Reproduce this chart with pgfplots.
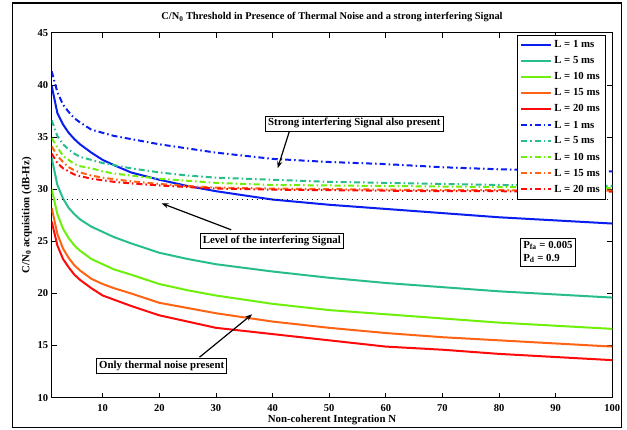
\documentclass[border=0pt]{standalone}
\usepackage{fontspec}
\setmainfont{Liberation Serif}
\usepackage{amsmath}
\usepackage{pgfplots}
\pgfplotsset{compat=1.18}
\usepackage{pgfplotstable}
\usetikzlibrary{arrows.meta}

\definecolor{cblue}{RGB}{10,30,240}
\definecolor{cteal}{RGB}{40,190,140}
\definecolor{cgreen}{RGB}{110,240,10}
\definecolor{corange}{RGB}{255,100,20}
\definecolor{cred}{RGB}{255,10,10}

\newcommand\fa{\fontsize{10.8}{13}\selectfont\bfseries}
\newcommand\ft{\fontsize{10.4}{12.5}\selectfont\bfseries}
\newcommand\fk{\fontsize{10.5}{12.5}\selectfont\bfseries}

\pgfplotstableread{
N   s1   s5   s10  s15  s20  d1   d5    d10   d15   d20
1   39.9 33.0 30.0 28.2 26.9 41.3 36.6  34.9  34.1  33.4
2   37.3 30.4 27.6 25.7 24.6 39.3 35.1  34.0  33.2  32.5
3   36.2 29.1 26.2 24.3 23.3 38.1 34.3  33.2  32.6  32.0
4   35.4 28.2 25.3 23.4 22.5 37.4 33.8  32.8  32.1  31.7
5   34.8 27.6 24.6 22.7 21.8 36.8 33.4  32.4  31.8  31.4
6   34.3 27.1 24.1 22.2 21.3 36.4 33.1  32.2  31.6  31.25
8   33.5 26.4 23.3 21.4 20.5 35.7 32.8  32.0  31.3  31.0
10  32.8 25.9 22.8 20.9 19.8 35.4 32.5  31.7  31.1  30.85
12  32.3 25.4 22.3 20.5 19.4 35.1 32.3  31.5  30.95 30.7
15  31.6 24.8 21.8 20.0 18.8 34.8 32.0  31.3  30.75 30.55
20  30.9 23.9 20.9 19.1 17.9 34.3 31.6  31.0  30.5  30.35
25  30.3 23.3 20.3 18.6 17.3 33.9 31.3  30.8  30.3  30.2
30  29.8 22.8 19.8 18.1 16.7 33.5 31.1  30.6  30.15 30.05
40  29.0 22.1 19.0 17.3 16.1 32.9 30.9  30.4  30.05 29.95
50  28.5 21.5 18.4 16.7 15.5 32.6 30.7  30.35 30.0  29.9
60  28.1 21.0 18.0 16.2 14.9 32.4 30.6  30.3  29.95 29.85
70  27.7 20.6 17.6 15.8 14.6 32.1 30.5  30.25 29.9  29.8
80  27.3 20.2 17.2 15.5 14.2 31.9 30.4  30.2  29.9  29.8
90  27.0 19.9 16.9 15.2 13.9 31.8 30.35 30.15 29.85 29.75
100 26.7 19.6 16.6 14.9 13.6 31.7 30.3  30.1  29.85 29.75
}\data

\begin{document}
\begin{tikzpicture}[x=1pt,y=1pt]
\fill[white] (0,0) rectangle (627,430);
\draw[line width=1.6pt] (12.5,2.5) rectangle (621.5,427);
\begin{axis}[
  at={(51.7pt,32.3pt)}, anchor=south west,
  scale only axis, width=560.6pt, height=365pt,
  xmin=1, xmax=100, ymin=10, ymax=45,
  xtick={10,20,...,100}, ytick={10,15,...,45},
  tick align=inside, major tick length=5pt,
  axis line style={line width=0.8pt},
  every tick/.style={black, line width=0.6pt},
  /pgf/number format/assume math mode=true,
  tick label style={font=\fk},
  xticklabel style={yshift=-3pt},
  every axis title shift=0pt,
  title={C/N$_{\text{0}}$ Threshold in Presence of Thermal Noise and a strong interfering Signal},
  title style={font=\ft, at={(axis description cs:0.5,1)}, anchor=base, yshift=12.7pt},
  xlabel={Non-coherent Integration N},
  xlabel style={font=\fa, at={(axis description cs:0.5,0)}, anchor=base, yshift=-24.5pt},
  ylabel={C/N$_{\text{0}}$ acquisition (dB-Hz)},
  ylabel style={font=\fa, at={(axis description cs:-0.0446,0.5)}, anchor=center},
  legend style={at={(axis description cs:0.988,0.994)}, anchor=north east,
    font=\fa, draw=black, line width=0.6pt, row sep=3.4pt, inner sep=3.5pt},
  legend cell align=left,
  legend image code/.code={\draw[#1] (0pt,0pt) -- (30pt,0pt);},
]
\addplot[cblue, line width=2pt] table[x=N,y=s1] {\data};
\addlegendentry{L = 1 ms}
\addplot[cteal, line width=2pt] table[x=N,y=s5] {\data};
\addlegendentry{L = 5 ms}
\addplot[cgreen, line width=2pt] table[x=N,y=s10] {\data};
\addlegendentry{L = 10 ms}
\addplot[corange, line width=2pt] table[x=N,y=s15] {\data};
\addlegendentry{L = 15 ms}
\addplot[cred, line width=2pt] table[x=N,y=s20] {\data};
\addlegendentry{L = 20 ms}
\addplot[cblue, line width=2pt, dash pattern=on 6pt off 3pt on 1.5pt off 3pt] table[x=N,y=d1] {\data};
\addlegendentry{L = 1 ms}
\addplot[cteal, line width=2pt, dash pattern=on 6pt off 3pt on 1.5pt off 3pt] table[x=N,y=d5] {\data};
\addlegendentry{L = 5 ms}
\addplot[cgreen, line width=2pt, dash pattern=on 6pt off 3pt on 1.5pt off 3pt] table[x=N,y=d10] {\data};
\addlegendentry{L = 10 ms}
\addplot[corange, line width=2pt, dash pattern=on 6pt off 3pt on 1.5pt off 3pt] table[x=N,y=d15] {\data};
\addlegendentry{L = 15 ms}
\addplot[cred, line width=2pt, dash pattern=on 6pt off 3pt on 1.5pt off 3pt] table[x=N,y=d20] {\data};
\addlegendentry{L = 20 ms}
\addplot[black, line width=1.6pt, dash pattern=on 1.6pt off 3.4pt, forget plot] coordinates {(1,29) (100,29)};

\draw[-{Stealth[length=7pt,width=5pt]}, line width=1.2pt] (axis cs:42.95,35.5) -- (axis cs:40.9,32.0);
\draw[-{Stealth[length=7pt,width=5pt]}, line width=1.2pt] (axis cs:32.7,26.1) -- (axis cs:20.4,28.64);
\draw[-{Stealth[length=7pt,width=5pt]}, line width=1.2pt] (axis cs:27.1,13.88) -- (axis cs:36.4,18.0);
\node[draw, fill=white, font=\fa, inner sep=2.5pt, line width=0.6pt] at (axis cs:54.45,36.31) {Strong interfering Signal also present};
\node[draw, fill=white, font=\fa, inner sep=2.5pt, line width=0.6pt] at (axis cs:39.87,25.05) {Level of the interfering Signal};
\node[draw, fill=white, font=\fa, inner sep=2.5pt, line width=0.6pt] at (axis cs:20.42,13.02) {Only thermal noise present};
\node[draw, fill=white, font=\fa, inner sep=3pt, line width=0.6pt, align=left] at (axis cs:88.64,23.97) {P$_{\text{fa}}$ = 0.005\\P$_{\text{d}}$ = 0.9};
\end{axis}
\end{tikzpicture}
\end{document}
